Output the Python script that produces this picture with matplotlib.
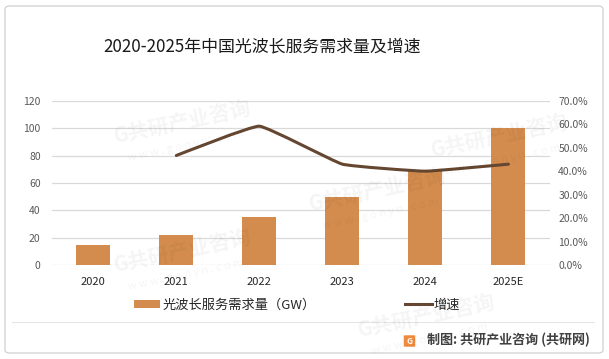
import matplotlib
matplotlib.use("Agg")
import matplotlib.pyplot as plt
from matplotlib.path import Path
from matplotlib.patches import PathPatch, Patch, FancyBboxPatch
from matplotlib.lines import Line2D
from matplotlib.ticker import FuncFormatter, MultipleLocator
import numpy as np

plt.rcParams['font.family'] = ['Noto Sans CJK SC', 'DejaVu Sans']

categories = ["2020", "2021", "2022", "2023", "2024", "2025E"]
demand = [14.6, 21.9, 35.0, 49.6, 68.7, 100]
growth = [None, 46.7, 59.2, 43.0, 40.0, 43.0]

title = "2020-2025年中国光波长服务需求量及增速"
bar_label = "光波长服务需求量（GW）"
line_label = "增速"
footer = "制图: 共研产业咨询 (共研网)"
wm_main = "共研产业咨询"
wm_sub = "w w w . g o n y n . c o m"

bar_color = "#D48C4E"
line_color = "#654630"
tick_color = "#595959"
grid_color = "#D9D9D9"

fig = plt.figure(figsize=(6.09, 3.59), dpi=100)

# faint watermarks (interior only)
wm_pos = [(0.30, 0.66), (0.62, 0.47), (0.30, 0.30), (0.82, 0.62), (0.70, 0.12)]
for wx, wy in wm_pos:
    fig.text(wx, wy, "G" + wm_main, fontsize=15, fontweight='bold', color="#000000",
             alpha=0.045, rotation=12, ha='center', va='center', zorder=10)
    fig.text(wx + 0.005, wy - 0.065, wm_sub, fontsize=8, color="#000000",
             alpha=0.045, rotation=12, ha='center', va='center', zorder=10)

ax = fig.add_axes([0.085, 0.262, 0.818, 0.457])
ax2 = ax.twinx()

x = np.arange(len(categories))
ax.bar(x, demand, width=0.41, color=bar_color, zorder=2)
ax.set_xlim(-0.5, len(categories) - 0.5)
ax.set_ylim(0, 120)
ax.yaxis.set_major_locator(MultipleLocator(20))
ax.set_xticks(x)
ax.set_xticklabels(categories)
ax.grid(axis='y', color=grid_color, linewidth=0.9, zorder=0)
ax.set_axisbelow(True)
for s in ax.spines.values():
    s.set_visible(False)
for s in ax2.spines.values():
    s.set_visible(False)
ax.tick_params(axis='both', length=0, colors=tick_color, labelsize=7.5)
ax.tick_params(axis='x', pad=9, labelcolor="#262626", labelsize=8)
ax.tick_params(axis='y', pad=8)

ax2.set_ylim(0, 70)
ax2.yaxis.set_major_locator(MultipleLocator(10))
ax2.yaxis.set_major_formatter(FuncFormatter(lambda v, p: f"{v:.1f}%"))
ax2.tick_params(axis='y', length=0, colors=tick_color, labelsize=7.5, pad=6)

# lightly smoothed line through growth points
pts = np.array([(xi, g) for xi, g in zip(x, growth) if g is not None], dtype=float)
verts = [tuple(pts[0])]
codes = [Path.MOVETO]
n = len(pts)
k = 1 / 20.0
for i in range(n - 1):
    p0 = pts[i - 1] if i > 0 else pts[i]
    p1 = pts[i]
    p2 = pts[i + 1]
    p3 = pts[i + 2] if i + 2 < n else pts[i + 1]
    c1 = p1 + (p2 - p0) * k
    c2 = p2 - (p3 - p1) * k
    verts += [tuple(c1), tuple(c2), tuple(p2)]
    codes += [Path.CURVE4] * 3
ax2.add_patch(PathPatch(Path(verts, codes), facecolor='none', edgecolor=line_color,
                        linewidth=2.2, capstyle='round', joinstyle='round', zorder=3))

fig.text(0.43, 0.872, title, ha='center', va='center', fontsize=12.2,
         color="#1a1a1a", fontweight='light')

handles = [Patch(facecolor=bar_color, edgecolor='none'),
           Line2D([0], [0], color=line_color, linewidth=2.2)]
leg = fig.legend(handles, [bar_label, line_label], ncol=2, loc='center',
                 bbox_to_anchor=(0.488, 0.15), frameon=False, fontsize=9.5,
                 columnspacing=6.8, handlelength=2.0, handleheight=0.5,
                 handletextpad=0.15)
for t in leg.get_texts():
    t.set_color("#262626")

# separator and footer
fig.add_artist(Line2D([0.02, 0.975], [1 - 322 / 359, 1 - 322 / 359], color="#E6E6E6", linewidth=0.8))
fig.add_artist(FancyBboxPatch((405 / 609, 1 - 346 / 359), 9 / 609, 10 / 359,
                              boxstyle="round,pad=0.002", facecolor="#F08A3C", edgecolor='none'))
fig.text(409.5 / 609, 1 - 341 / 359, "G", ha='center', va='center', fontsize=6,
         color='white', fontweight='bold')
fig.text(427 / 609, 1 - 340 / 359, footer, ha='left', va='center', fontsize=9.4,
         color="#404040", fontweight='bold')

# outer border
fig.add_artist(FancyBboxPatch((5 / 609, 6 / 359), 598 / 609, 347 / 359,
                              boxstyle="round,pad=0,rounding_size=0.008",
                              facecolor='none', edgecolor="#D0D0D0", linewidth=0.9))

fig.savefig("out.png", dpi=100)
